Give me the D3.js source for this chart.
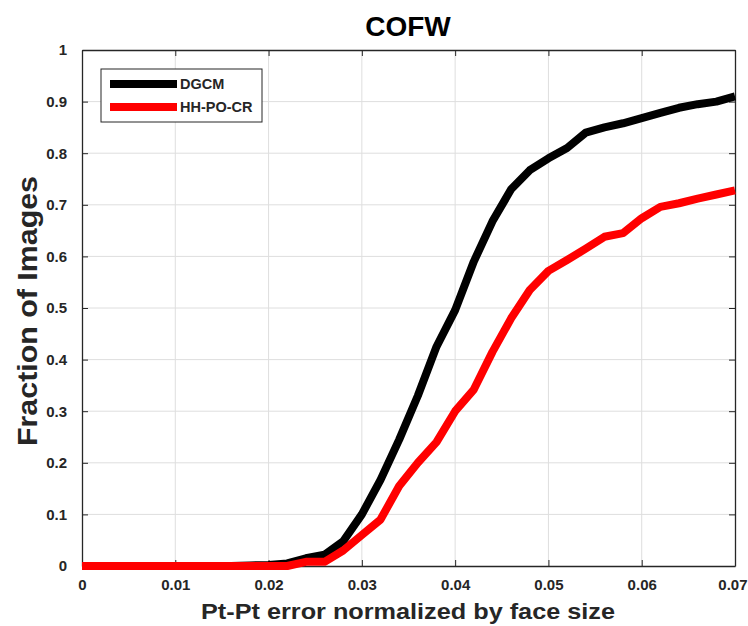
<!DOCTYPE html>
<html><head><meta charset="utf-8">
<script src="https://cdn.jsdelivr.net/npm/d3@7"></script>
<style>body{margin:0;background:#fff;} svg{display:block;}</style>
</head><body>
<svg id="chart" width="748" height="626"></svg>
<script>
const xValues = [0,0.002,0.004,0.006,0.008,0.010,0.012,0.014,0.016,0.018,0.020,0.022,0.024,0.026,0.028,0.030,0.032,0.034,0.036,0.038,0.040,0.042,0.044,0.046,0.048,0.050,0.052,0.054,0.056,0.058,0.060,0.062,0.064,0.066,0.068,0.070];
const dgcm = [0,0,0,0,0,0,0,0,0,0.001,0.002,0.005,0.015,0.022,0.048,0.10,0.167,0.245,0.33,0.425,0.496,0.59,0.668,0.73,0.767,0.79,0.81,0.84,0.85,0.858,0.868,0.878,0.888,0.895,0.90,0.91];
const hhpocr = [0,0,0,0,0,0,0,0,0,0,0,0,0.008,0.008,0.03,0.06,0.09,0.155,0.20,0.24,0.30,0.342,0.415,0.48,0.535,0.572,0.593,0.615,0.638,0.645,0.674,0.696,0.703,0.712,0.72,0.728];
const seriesNames = ["DGCM","HH-PO-CR"];
const seriesColors = ["#000000","#ff0000"];
const xTicks = [0,0.01,0.02,0.03,0.04,0.05,0.06,0.07];
const xTickLabels = ["0","0.01","0.02","0.03","0.04","0.05","0.06","0.07"];
const yTicks = [0,0.1,0.2,0.3,0.4,0.5,0.6,0.7,0.8,0.9,1];
const yTickLabels = ["0","0.1","0.2","0.3","0.4","0.5","0.6","0.7","0.8","0.9","1"];
const titleText = "COFW";
const xLabel = "Pt-Pt error normalized by face size";
const yLabel = "Fraction of Images";

const svg = d3.select("#chart");
const L = 82, R = 735, T = 50, B = 566;
const x = d3.scaleLinear().domain([0,0.07]).range([L,R]);
const y = d3.scaleLinear().domain([0,1]).range([B,T]);
const axisColor = "#262626";
const font = "'Liberation Sans', Arial, sans-serif";

// grid
const g = svg.append("g");
g.selectAll(".gx").data(xTicks.slice(1,-1)).join("line")
  .attr("x1",d=>x(d)).attr("x2",d=>x(d)).attr("y1",T).attr("y2",B)
  .attr("stroke","#dedede").attr("stroke-width",1);
g.selectAll(".gy").data(yTicks.slice(1,-1)).join("line")
  .attr("y1",d=>y(d)).attr("y2",d=>y(d)).attr("x1",L).attr("x2",R)
  .attr("stroke","#dedede").attr("stroke-width",1);

// axes
const xAxisB = d3.axisBottom(x).tickValues(xTicks).tickFormat((d,i)=>xTickLabels[i]).tickSizeInner(-6).tickSizeOuter(0).tickPadding(13);
const xAxisT = d3.axisTop(x).tickValues(xTicks).tickFormat("").tickSizeInner(-6).tickSizeOuter(0);
const yAxisL = d3.axisLeft(y).tickValues(yTicks).tickFormat((d,i)=>yTickLabels[i]).tickSizeInner(-6).tickSizeOuter(0).tickPadding(15);
const yAxisR = d3.axisRight(y).tickValues(yTicks).tickFormat("").tickSizeInner(-6).tickSizeOuter(0);
function style(sel){
  sel.select(".domain").attr("stroke",axisColor).attr("stroke-width",1.3);
  sel.selectAll(".tick line").attr("stroke",axisColor);
  sel.selectAll(".tick text").attr("fill",axisColor).style("font-family",font).style("font-weight","bold").style("font-size","15px");
}
const gxB = svg.append("g").attr("transform",`translate(0,${B})`).call(xAxisB).call(style);
// keep last label inside the window
gxB.selectAll(".tick text").filter((d,i)=>i===xTicks.length-1).attr("text-anchor","end").attr("dx",12);
svg.append("g").attr("transform",`translate(0,${T})`).call(xAxisT).call(style);
svg.append("g").attr("transform",`translate(${L},0)`).call(yAxisL).call(style);
svg.append("g").attr("transform",`translate(${R},0)`).call(yAxisR).call(style);

// lines
const line = d3.line().x((d,i)=>x(xValues[i])).y(d=>y(d));
[dgcm,hhpocr].forEach((s,k)=>{
  svg.append("path").datum(s).attr("d",line).attr("fill","none")
    .attr("stroke",seriesColors[k]).attr("stroke-width",8).attr("stroke-linejoin","round");
});

// legend
const lg = svg.append("g");
lg.append("rect").attr("x",101).attr("y",69).attr("width",161).attr("height",53)
  .attr("fill","#fff").attr("stroke",axisColor).attr("stroke-width",1);
seriesNames.forEach((n,k)=>{
  const yy = 84 + k*23;
  lg.append("line").attr("x1",110).attr("x2",177).attr("y1",yy).attr("y2",yy)
    .attr("stroke",seriesColors[k]).attr("stroke-width",8);
  lg.append("text").attr("x",180).attr("y",yy+5).text(n)
    .attr("fill",axisColor).style("font-family",font).style("font-weight","bold").style("font-size","14.5px");
});

// titles
svg.append("text").attr("x",408).attr("y",36).attr("text-anchor","middle").text(titleText)
  .style("font-family",font).style("font-weight","bold").style("font-size","28px").attr("fill","#000");
svg.append("text").attr("x",408).attr("y",619).attr("text-anchor","middle").text(xLabel)
  .attr("textLength",414).attr("lengthAdjust","spacingAndGlyphs")
  .style("font-family",font).style("font-weight","bold").style("font-size","22px").attr("fill",axisColor);
svg.append("text").attr("transform","translate(37,311) rotate(-90)").attr("text-anchor","middle").text(yLabel)
  .attr("textLength",270).attr("lengthAdjust","spacingAndGlyphs")
  .style("font-family",font).style("font-weight","bold").style("font-size","28px").attr("fill",axisColor);
</script>
</body></html>
